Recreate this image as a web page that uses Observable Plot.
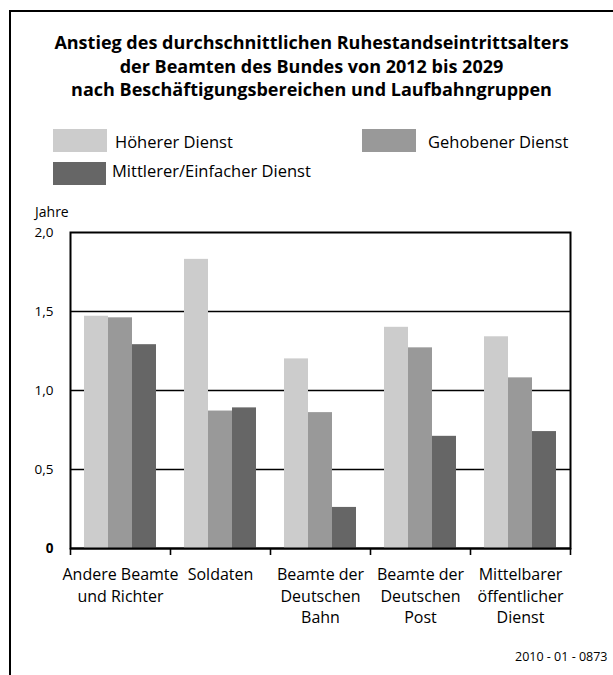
<!DOCTYPE html>
<html>
<head>
<meta charset="utf-8">
<script src="https://cdn.jsdelivr.net/npm/d3@7"></script>
<script src="https://cdn.jsdelivr.net/npm/@observablehq/plot@0.6"></script>
<style>
  html, body { margin: 0; padding: 0; background: #fff; }
  #wrap { position: relative; width: 613px; height: 675px; overflow: hidden; font-family: "Open Sans", sans-serif; color: #000; }
  #wrap svg { position: absolute; left: 0; top: 0; }
  .frameTop { position: absolute; left: 9px; top: 10px; width: 604px; height: 2px; background: #000; }
  .frameLeft { position: absolute; left: 9px; top: 10px; width: 2px; height: 665px; background: #000; }
  .title { position: absolute; left: 10px; width: 603px; top: 31px; text-align: center; font-weight: bold; font-size: 18px; line-height: 23.5px; white-space: nowrap; }
  .sw { position: absolute; }
  .lt { position: absolute; font-size: 16.5px; line-height: 17px; white-space: nowrap; }
  .jahre { position: absolute; left: 35px; top: 204.5px; font-size: 14px; line-height: 14px; }
  .foot { position: absolute; left: 515px; top: 651px; font-size: 12.5px; line-height: 12.5px; white-space: nowrap; }
</style>
</head>
<body>
<div id="wrap"></div>
<script>
// ---- data ----
const categories = ["Andere Beamte und Richter", "Soldaten", "Beamte der Deutschen Bahn", "Beamte der Deutschen Post", "Mittelbarer öffentlicher Dienst"];
const categoryLabels = ["Andere Beamte\nund Richter", "Soldaten", "Beamte der\nDeutschen\nBahn", "Beamte der\nDeutschen\nPost", "Mittelbarer\nöffentlicher\nDienst"];
const series = ["Höherer Dienst", "Gehobener Dienst", "Mittlerer/Einfacher Dienst"];
const hoeherer   = [1.47, 1.83, 1.20, 1.40, 1.34];
const gehobener  = [1.46, 0.87, 0.86, 1.27, 1.08];
const mittlerer  = [1.29, 0.89, 0.26, 0.71, 0.74];
const colors = ["#cccccc", "#999999", "#666666"];
const yTicks = [0, 0.5, 1.0, 1.5, 2.0];
const title = ["Anstieg des durchschnittlichen Ruhestandseintrittsalters", "der Beamten des Bundes von 2012 bis 2029", "nach Beschäftigungsbereichen und Laufbahngruppen"];
const yLabel = "Jahre";
const footer = "2010 - 01 - 0873";

const valuesBySeries = [hoeherer, gehobener, mittlerer];
const table = [];
categories.forEach((c, i) => series.forEach((s, j) => table.push({category: c, series: s, value: valuesBySeries[j][i]})));

const W = 613, H = 675;
const margins = {marginLeft: 70, marginRight: 43, marginTop: 232, marginBottom: 127};
const fmt = d => d === 0 ? "0" : d3.format(".1f")(d).replace(".", ",");
const FONT = "'Open Sans', sans-serif";

const wrap = document.getElementById("wrap");

// Background: frame, grid, axes
const back = Plot.plot({
  width: W, height: H, ...margins,
  style: {fontFamily: FONT, fontSize: "13px", background: "transparent", color: "#000"},
  x: {domain: [0, categories.length]},
  y: {domain: [yTicks[0], yTicks[yTicks.length - 1]]},
  marks: [
    Plot.ruleY(yTicks.slice(1, -1), {stroke: "#000", strokeWidth: 1.6}),
    Plot.frame({stroke: "#000", strokeWidth: 2}),
    Plot.axisX(d3.range(categories.length + 1), {tickSize: 7, tickFormat: () => "", strokeWidth: 1.6, label: null}),
    Plot.axisY(yTicks.filter(d => d !== 0), {tickSize: 0, tickPadding: 17, tickFormat: fmt, label: null, fontSize: 13.5}),
    Plot.axisY([0], {tickSize: 0, tickPadding: 17, tickFormat: fmt, fontWeight: "bold", label: null, fontSize: 13.5})
  ]
});

// Foreground: bars and category labels
const front = Plot.plot({
  width: W, height: H, ...margins,
  style: {fontFamily: FONT, fontSize: "16px", background: "transparent", color: "#000"},
  fx: {domain: categories, padding: 0, axis: null},
  x: {domain: series, paddingInner: 0, paddingOuter: 0.5833, axis: null},
  y: {domain: [yTicks[0], yTicks[yTicks.length - 1]], axis: null},
  color: {domain: series, range: colors},
  marks: [
    Plot.barY(table, {fx: "category", x: "series", y: "value", fill: "series"}),
    Plot.ruleY([0], {stroke: "#000", strokeWidth: 2}),
    Plot.text(categories, {fx: d => d, text: d => categoryLabels[categories.indexOf(d)], frameAnchor: "bottom", lineAnchor: "top", dy: 15.6, lineHeight: 1.37, fontSize: 16})
  ]
});

wrap.appendChild(back);
wrap.appendChild(front);

// Outer frame (top + left only)
const ft = document.createElement("div"); ft.className = "frameTop"; wrap.appendChild(ft);
const fl = document.createElement("div"); fl.className = "frameLeft"; wrap.appendChild(fl);

// Title
const t = document.createElement("div"); t.className = "title";
t.innerHTML = title.join("<br>");
wrap.appendChild(t);

// Legend
const legendPos = [
  {sx: 53, sy: 129, sw: 54, sh: 23, tx: 115, ty: 132.6},
  {sx: 362, sy: 129, sw: 54, sh: 23, tx: 428, ty: 132.6},
  {sx: 53, sy: 162, sw: 53, sh: 23, tx: 112, ty: 161.8}
];
series.forEach((s, i) => {
  const p = legendPos[i];
  const sw = document.createElement("div"); sw.className = "sw";
  Object.assign(sw.style, {left: p.sx + "px", top: p.sy + "px", width: p.sw + "px", height: p.sh + "px", background: colors[i]});
  wrap.appendChild(sw);
  const lt = document.createElement("div"); lt.className = "lt";
  lt.textContent = s;
  Object.assign(lt.style, {left: p.tx + "px", top: p.ty + "px"});
  wrap.appendChild(lt);
});

// Y label
const j = document.createElement("div"); j.className = "jahre"; j.textContent = yLabel; wrap.appendChild(j);

// Footer
const f = document.createElement("div"); f.className = "foot"; f.textContent = footer; wrap.appendChild(f);
</script>
</body>
</html>
